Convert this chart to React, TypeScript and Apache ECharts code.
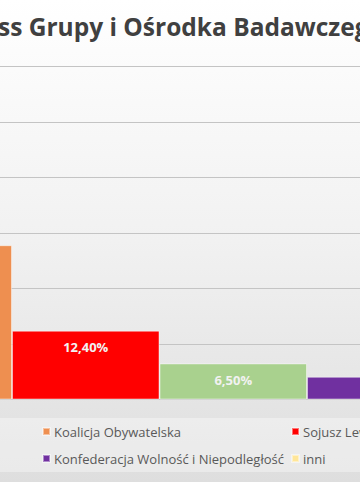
import React, { useEffect, useRef } from "react";
import * as echarts from "echarts";

const categories = ["Wyniki"];
const seriesNames = [
  "Koalicja Obywatelska",
  "Sojusz Lewicy Demokratycznej",
  "Koalicja Polska PSL",
  "Konfederacja Wolność i Niepodległość",
  "inni",
];
const seriesValues = [27.8, 12.4, 6.5, 4.1, 3.5];
const seriesColors = ["#EE8F50", "#FF0000", "#A9D18E", "#7030A0", "#FFE699"];
const labelVisible = [false, true, true, false, false];
const titleText = "ss Grupy i Ośrodka Badawczego";
const yTicks = [0, 10, 20, 30, 40, 50, 60];

const fmt = (v: number) => v.toFixed(2).replace(".", ",") + "%";

export default function App() {
  const ref = useRef<HTMLDivElement>(null);
  useEffect(() => {
    if (!ref.current) return;
    const chart = echarts.init(ref.current, undefined, { renderer: "svg" });
    const barW = 147.5;
    const groupLeft = 12 - barW;
    const center = groupLeft + (barW * seriesNames.length) / 2;
    const gridLeft = -300;
    const gridWidth = 2 * (center - gridLeft);
    const gridRight = 360 - (gridLeft + gridWidth);
    const legendPos = [
      { name: seriesNames[0], left: 42, top: 425 },
      { name: seriesNames[1], left: 291, top: 425 },
      { name: seriesNames[3], left: 42, top: 452 },
      { name: seriesNames[4], left: 291, top: 452 },
    ];
    chart.setOption({
      animation: false,
      backgroundColor: new echarts.graphic.LinearGradient(0, 0, 0, 1, [
        { offset: 0, color: "#ffffff" },
        { offset: 0.5, color: "#f1f1f1" },
        { offset: 1, color: "#dedede" },
      ]),
      graphic: [
        {
          type: "rect",
          shape: { x: 0, y: 418, width: 360, height: 54 },
          style: { fill: "rgba(255,255,255,0.35)" },
          silent: true,
        },
        {
          type: "text",
          x: -2,
          y: 26,
          style: {
            text: titleText,
            fontFamily: "Open Sans",
            fontWeight: "bold",
            fontSize: 24.5,
            fill: "#404040",
            verticalAlign: "middle",
          },
        },
      ],
      legend: legendPos.map((l) => ({
        data: [l.name],
        left: l.left,
        top: l.top,
        padding: 0,
        itemWidth: 7,
        itemHeight: 7,
        icon: "rect",
        itemGap: 0,
        textStyle: { fontFamily: "Open Sans", fontSize: 13, color: "#595959", padding: [0, 0, 0, -1] },
      })),
      grid: {
        left: gridLeft,
        right: gridRight,
        top: 66.5,
        bottom: 82.5,
        outerBoundsMode: "none",
        containLabel: false,
      },
      xAxis: {
        type: "category",
        data: categories,
        axisLine: { show: true, lineStyle: { color: "#c8c8c8" } },
        axisTick: { show: false },
        axisLabel: { show: false },
      },
      yAxis: {
        type: "value",
        min: yTicks[0],
        max: yTicks[yTicks.length - 1],
        interval: 10,
        axisLabel: { show: false },
        axisLine: { show: false },
        splitLine: { lineStyle: { color: "#c4c4c4", width: 1 } },
      },
      series: seriesNames.map((name, i) => ({
        type: "bar",
        name,
        data: [seriesValues[i]],
        barWidth: barW,
        barGap: "0%",
        itemStyle: {
          color: seriesColors[i],
          borderColor: "rgba(255,255,255,0.45)",
          borderWidth: 1,
        },
        label: {
          show: labelVisible[i],
          position: "insideTop",
          distance: 10,
          formatter: (p: any) => fmt(p.value),
          color: "#F2F2F2",
          fontFamily: "Open Sans",
          fontWeight: "bold",
          fontSize: 13,
        },
      })),
    });
    return () => chart.dispose();
  }, []);
  return (
    <div style={{ position: "fixed", left: 0, top: 0, width: 360, height: 482, overflow: "hidden" }}>
      <div ref={ref} style={{ width: 360, height: 482 }} />
    </div>
  );
}
